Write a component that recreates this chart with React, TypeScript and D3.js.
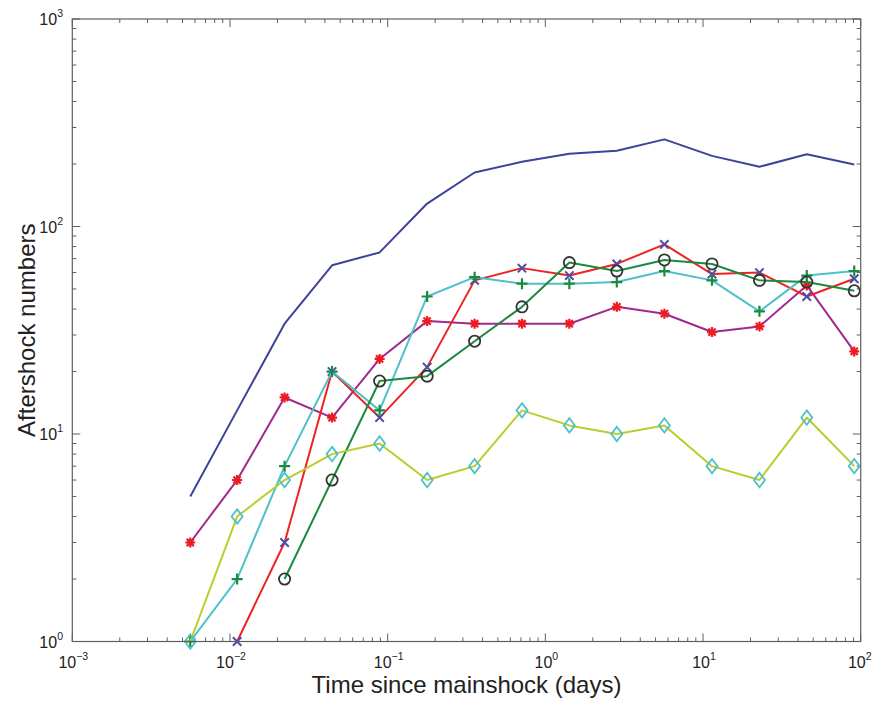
import React from 'react';
import * as d3 from 'd3';

// Time bins (days since mainshock)
const days = [0.0056, 0.0111, 0.0222, 0.0444, 0.0889, 0.178, 0.356, 0.711, 1.42, 2.84, 5.69, 11.4, 22.8, 45.5, 91.0];

// Aftershock numbers per series (null = no point)
const totalCounts = [5, 13, 34, 65, 75, 129, 182, 205, 224, 232, 263, 219, 194, 223, 199];
const asteriskCounts = [3, 6, 15, 12, 23, 35, 34, 34, 34, 41, 38, 31, 33, 52, 25];
const crossCounts = [null, 1, 3, 20, 12, 21, 55, 63, 58, 66, 82, 59, 60, 46, 56];
const plusCounts = [1, 2, 7, 20, 13, 46, 57, 53, 53, 54, 61, 55, 39, 58, 61];
const circleCounts = [null, null, 2, 6, 18, 19, 28, 41, 67, 61, 69, 66, 55, 54, 49];
const diamondCounts = [1, 4, 6, 8, 9, 6, 7, 13, 11, 10, 11, 7, 6, 12, 7];

const xDecades = [-3, -2, -1, 0, 1, 2];
const yDecades = [0, 1, 2, 3];

const W = 875;
const H = 702;
const L = 72.3, R = 860.7, T = 19, B = 641.5;
const FONT = '"Liberation Sans", Arial, Helvetica, sans-serif';
const AXIS = '#5f5f5f';

type Series = {
  values: (number | null)[];
  line: string;
  marker: 'none' | 'asterisk' | 'x' | 'plus' | 'circle' | 'diamond';
  mcolor: string;
};

const series: Series[] = [
  { values: totalCounts, line: '#3d4399', marker: 'none', mcolor: '#3d4399' },
  { values: asteriskCounts, line: '#a0288f', marker: 'asterisk', mcolor: '#ec1c24' },
  { values: crossCounts, line: '#ee2222', marker: 'x', mcolor: '#4a4fa8' },
  { values: plusCounts, line: '#4ec0c8', marker: 'plus', mcolor: '#1a8a3e' },
  { values: circleCounts, line: '#1a8a3e', marker: 'circle', mcolor: '#333333' },
  { values: diamondCounts, line: '#bccc28', marker: 'diamond', mcolor: '#4ec0c8' },
];

function Marker({ type, cx, cy, color }: { type: string; cx: number; cy: number; color: string }) {
  const sw = 1.8;
  if (type === 'circle') {
    return <circle cx={cx} cy={cy} r={5.6} fill="none" stroke={color} strokeWidth={sw} />;
  }
  if (type === 'diamond') {
    const w = 5.5, h = 7.2;
    return (
      <path
        d={`M${cx},${cy - h}L${cx + w},${cy}L${cx},${cy + h}L${cx - w},${cy}Z`}
        fill="none"
        stroke={color}
        strokeWidth={sw}
      />
    );
  }
  if (type === 'plus') {
    const s = 5.5;
    return (
      <path d={`M${cx - s},${cy}H${cx + s}M${cx},${cy - s}V${cy + s}`} stroke={color} strokeWidth={2.2} />
    );
  }
  if (type === 'x') {
    const s = 4.2;
    return (
      <path
        d={`M${cx - s},${cy - s}L${cx + s},${cy + s}M${cx - s},${cy + s}L${cx + s},${cy - s}`}
        stroke={color}
        strokeWidth={2}
      />
    );
  }
  if (type === 'asterisk') {
    const s = 5, d = 3.6;
    return (
      <path
        d={`M${cx - s},${cy}H${cx + s}M${cx},${cy - s}V${cy + s}M${cx - d},${cy - d}L${cx + d},${cy + d}M${cx - d},${cy + d}L${cx + d},${cy - d}`}
        stroke={color}
        strokeWidth={2.2}
      />
    );
  }
  return null;
}

export default function App() {
  const x = d3.scaleLog().domain([1e-3, 1e2]).range([L, R]);
  const y = d3.scaleLog().domain([1, 1e3]).range([B, T]);

  const xt = x.ticks();
  const yt = y.ticks();
  const isMajor = (v: number) => Math.abs(Math.log10(v) - Math.round(Math.log10(v))) < 1e-9;

  const line = d3
    .line<[number, number | null]>()
    .defined((d) => d[1] != null)
    .x((d) => x(d[0]))
    .y((d) => y(d[1] as number));

  return (
    <svg
      width={W}
      height={H}
      style={{ position: 'absolute', left: 0, top: 0, background: '#fff' }}
      fontFamily={FONT}
    >
      <rect x={0} y={0} width={W} height={H} fill="#fff" />
      {/* ticks */}
      <g stroke={AXIS} strokeWidth={1}>
        {xt.map((v, i) => {
          const len = isMajor(v) ? 8 : 4;
          const px = x(v);
          return (
            <g key={'xt' + i}>
              <line x1={px} x2={px} y1={B} y2={B - len} />
              <line x1={px} x2={px} y1={T} y2={T + len} />
            </g>
          );
        })}
        {yt.map((v, i) => {
          const len = isMajor(v) ? 8 : 4;
          const py = y(v);
          return (
            <g key={'yt' + i}>
              <line x1={L} x2={L + len} y1={py} y2={py} />
              <line x1={R} x2={R - len} y1={py} y2={py} />
            </g>
          );
        })}
      </g>
      {/* data */}
      {series.map((s, si) => {
        const pts = days.map((d, i) => [d, s.values[i]] as [number, number | null]);
        return (
          <g key={'s' + si}>
            <path d={line(pts) || ''} fill="none" stroke={s.line} strokeWidth={2} strokeLinejoin="round" />
            {s.marker !== 'none' &&
              pts
                .filter((p) => p[1] != null)
                .map((p, i) => (
                  <Marker key={i} type={s.marker} cx={x(p[0])} cy={y(p[1] as number)} color={s.mcolor} />
                ))}
          </g>
        );
      })}
      {/* frame */}
      <rect x={L} y={T} width={R - L} height={B - T} fill="none" stroke={AXIS} strokeWidth={1.2} />
      {/* x tick labels */}
      {xDecades.map((e) => (
        <text key={'xl' + e} x={x(Math.pow(10, e)) + (e === 2 ? -1 : 1)} y={668} textAnchor="middle" fontSize={16} fill="#222">
          10
          <tspan dy={-8} fontSize={10.5}>
            {e < 0 ? '\u2212' + Math.abs(e) : String(e)}
          </tspan>
        </text>
      ))}
      {/* y tick labels */}
      {yDecades.map((e) => (
        <text key={'yl' + e} x={63} y={y(Math.pow(10, e)) + 6} textAnchor="end" fontSize={16} fill="#222">
          10
          <tspan dy={-8} fontSize={10.5}>
            {String(e)}
          </tspan>
        </text>
      ))}
      {/* axis titles */}
      <text x={(L + R) / 2} y={693} textAnchor="middle" fontSize={24} fill="#222">
        Time since mainshock (days)
      </text>
      <text
        transform={`translate(35,${(T + B) / 2}) rotate(-90)`}
        textAnchor="middle"
        fontSize={24}
        fill="#222"
      >
        Aftershock numbers
      </text>
    </svg>
  );
}
